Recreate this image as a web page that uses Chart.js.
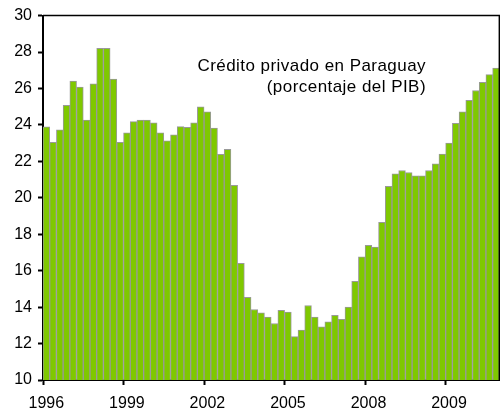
<!DOCTYPE html>
<html>
<head>
<meta charset="utf-8">
<script src="https://cdn.jsdelivr.net/npm/chart.js@4.4.1/dist/chart.umd.min.js"></script>
<style>
  html, body { margin: 0; padding: 0; background: #fff; }
  #wrap { width: 500px; height: 413px; overflow: hidden; position: relative; }
  #c { position: absolute; left: 0; top: 0; }
</style>
</head>
<body>
<div id="wrap"><canvas id="c" width="505" height="413" style="width:505px;height:413px"></canvas></div>
<script>
// Quarterly categories 1996Q1 .. 2012Q4
const years = [];
for (let y = 1996; y <= 2012; y++) years.push(y);
const categories = [];
years.forEach(y => { for (let q = 1; q <= 4; q++) categories.push(y + 'T' + q); });

// Private credit (% of GDP)
const creditValues = [
  23.9, 23.05, 23.73, 25.08,
  26.40, 26.07, 24.27, 26.25,
  28.2, 28.2, 26.52, 23.05,
  23.57, 24.18, 24.27, 24.27,
  24.11, 23.57, 23.12, 23.46,
  23.91, 23.87, 24.11, 24.99,
  24.72, 23.82, 22.39, 22.66,
  20.68, 16.40, 14.54, 13.87,
  13.69, 13.46, 13.10, 13.82,
  13.73, 12.38, 12.74, 14.09,
  13.46, 12.92, 13.19, 13.55,
  13.33, 14.0, 15.41, 16.76,
  17.39, 17.30, 18.65, 20.63,
  21.32, 21.50, 21.39, 21.21,
  21.21, 21.50, 21.86, 22.40,
  23.01, 24.09, 24.72, 25.35,
  25.89, 26.34, 26.76, 27.12
];

// X tick labels (as printed in the original) and the bar index where each sits
const xTickIndexes = [0, 12, 24, 36, 48, 60];
const xTickTexts = ['1996', '1999', '2002', '2005', '2008', '2009'];

const titleLines = ['Crédito privado en Paraguay', '(porcentaje del PIB)'];

const FONT = "'Liberation Sans', Arial, sans-serif";

const framePlugin = {
  id: 'frame',
  afterDraw(chart) {
    const ctx = chart.ctx;
    const a = chart.chartArea;
    ctx.save();
    ctx.strokeStyle = '#000';
    ctx.lineWidth = 1.5;
    ctx.beginPath();
    ctx.moveTo(a.left, a.top);
    ctx.lineTo(a.right, a.top);
    ctx.lineTo(a.right, a.bottom);
    ctx.stroke();
    // title text inside plot
    ctx.fillStyle = '#000';
    ctx.font = '17px ' + FONT;
    if ('letterSpacing' in ctx) ctx.letterSpacing = '0.45px';
    ctx.textAlign = 'right';
    ctx.textBaseline = 'alphabetic';
    ctx.fillText(titleLines[0], 426, 71);
    ctx.fillText(titleLines[1], 426, 92);
    ctx.restore();
  }
};

new Chart(document.getElementById('c'), {
  type: 'bar',
  data: {
    labels: categories.slice(0, creditValues.length),
    datasets: [{
      data: creditValues,
      backgroundColor: '#7fc800',
      borderColor: '#999999',
      borderWidth: 1,
      barPercentage: 1,
      categoryPercentage: 1
    }]
  },
  options: {
    responsive: false,
    animation: false,
    devicePixelRatio: 1,
    layout: { padding: { top: 10, right: 1, left: 0, bottom: 0 } },
    plugins: { legend: { display: false }, tooltip: { enabled: false }, title: { display: false } },
    scales: {
      x: {
        offset: true,
        grid: {
          offset: true,
          drawOnChartArea: false,
          drawTicks: true,
          tickLength: 5,
          tickWidth: 2,
          tickColor: (c) => xTickIndexes.includes(c.index) ? '#000' : 'rgba(0,0,0,0)'
        },
        border: { display: true, color: '#000', width: 2 },
        ticks: {
          autoSkip: false,
          maxRotation: 0,
          minRotation: 0,
          padding: 9,
          color: '#000',
          font: { family: FONT, size: 16 },
          callback: (v, i) => {
            const k = xTickIndexes.indexOf(i);
            return k >= 0 ? xTickTexts[k] : '';
          }
        },
        afterFit: (s) => { s.height = 33; }
      },
      y: {
        min: 10,
        max: 30,
        ticks: {
          stepSize: 2,
          padding: 6,
          color: '#000',
          font: { family: FONT, size: 16 }
        },
        grid: {
          drawOnChartArea: false,
          drawTicks: true,
          tickLength: 5,
          tickWidth: 2,
          tickColor: '#000'
        },
        border: { display: true, color: '#000', width: 2 },
        afterFit: (s) => { s.width = 43; }
      }
    }
  },
  plugins: [framePlugin]
});
</script>
</body>
</html>
